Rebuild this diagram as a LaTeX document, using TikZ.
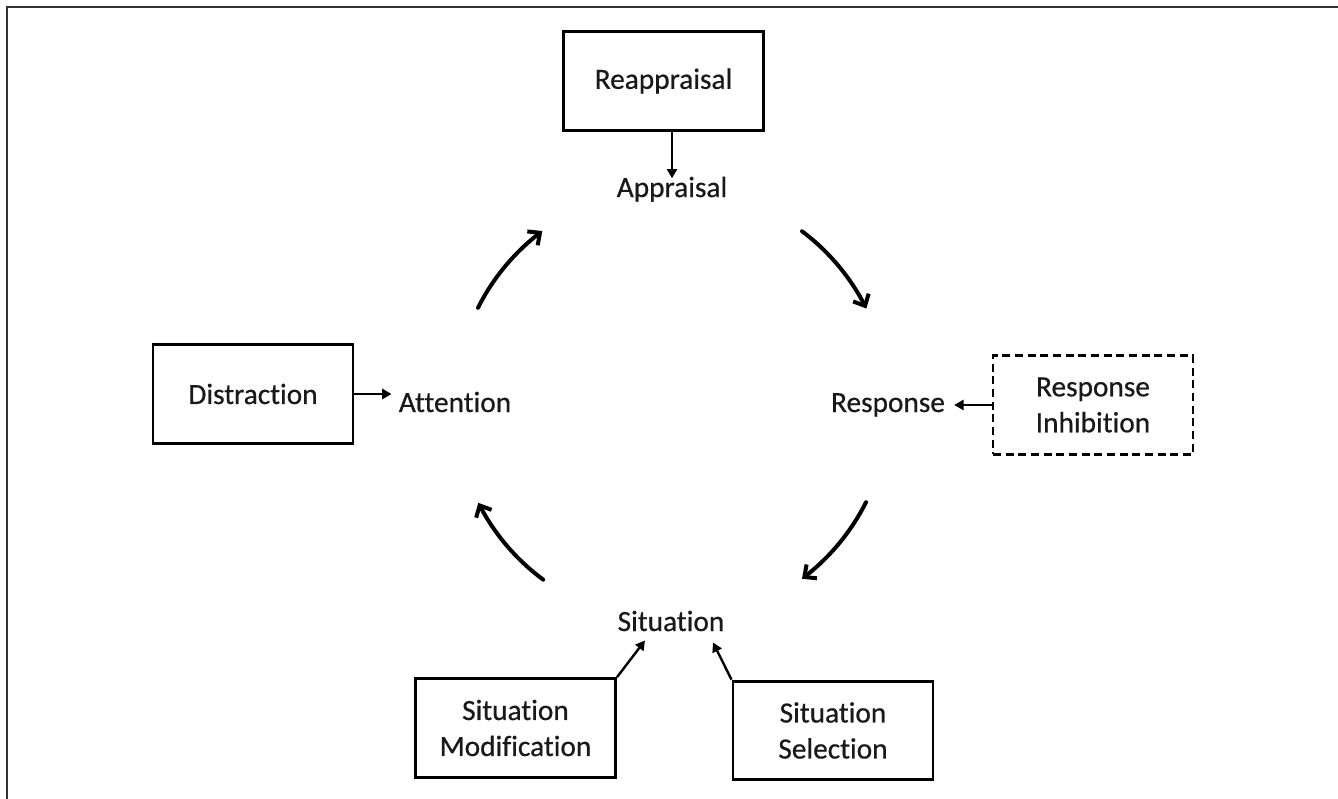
\documentclass[tikz,border=0pt]{standalone}
\usepackage{fontspec}
\setmainfont{Carlito}[Ligatures=NoCommon, BoldFont=Carlito, BoldFeatures={FakeBold=0.6}]
\usetikzlibrary{arrows.meta,calc,bending}
\begin{document}
\begin{tikzpicture}[x=0.75pt,y=-0.75pt,
  txt/.style={font=\fontsize{22}{27}\selectfont\bfseries, text=black!90},
  box/.style={txt, draw=black, line width=2.2pt, minimum width=150pt, minimum height=74pt, align=center, inner sep=0pt},
  dbox/.style={box, dash pattern=on 6pt off 3.5pt},
  lbl/.style={txt, inner sep=0pt, anchor=base},
  cyc/.style={line width=3pt, line cap=round, -{Straight Barb[length=7pt,width=13pt,line width=3pt,flex]}},
  link/.style={line width=1.8pt, -{Triangle[length=7pt,width=7.5pt]}}
]
\useasboundingbox (0,0) rectangle (1338,799);
\draw[line width=1.6pt, draw=black!80] (1338,7) -- (7,7) -- (7,799);

% boxes
\node[box] (reap) at (663.5,81) {Reappraisal};
\node[box] (dist) at (253,394) {Distraction};
\node[dbox] (rinh) at (1093,405) {Response\\Inhibition};
\node[box] (smod) at (515.5,728) {Situation\\Modification};
\node[box] (ssel) at (833,730.5) {Situation\\Selection};

% cycle labels
\node[lbl] (appr) at (672,197) {Appraisal};
\node[lbl] (resp) at (888,412) {Response};
\node[lbl] (attn) at (455,412) {Attention};
\node[lbl] (sit) at (671,631) {Situation};

% small arrows
\draw[link] (reap.south -| appr.north) -- ($(appr.north)+(0,2)$);
\draw[link] (dist.east) -- ($(dist.east -| attn.west)+(-7,0)$);
\draw[link] (rinh.west) -- ($(rinh.west -| resp.east)+(9,0)$);
\coordinate (modtip) at ($(sit.south)+(-26,9)$);
\coordinate (seltip) at ($(sit.south)+(42,11)$);
\draw[link] (smod.north east) -- (modtip);
\draw[link] (ssel.north west) -- (seltip);

% cycle arcs
\coordinate (C) at (672,405);
\coordinate (a1) at ($(C)+(153.4:162.75pt)$);
\coordinate (a2) at ($(C)+(53.2:162.75pt)$);
\coordinate (a3) at ($(C)+(-26.6:162.75pt)$);
\coordinate (a4) at ($(C)+(-126.4:162.75pt)$);
\draw[cyc] (a1) arc[start angle=153.4, end angle=126.7, radius=162.75pt];
\draw[cyc] (a2) arc[start angle=53.2, end angle=26.4, radius=162.75pt];
\draw[cyc] (a3) arc[start angle=-26.6, end angle=-53.2, radius=162.75pt];
\draw[cyc] (a4) arc[start angle=-126.4, end angle=-153.2, radius=162.75pt];
\end{tikzpicture}
\end{document}
